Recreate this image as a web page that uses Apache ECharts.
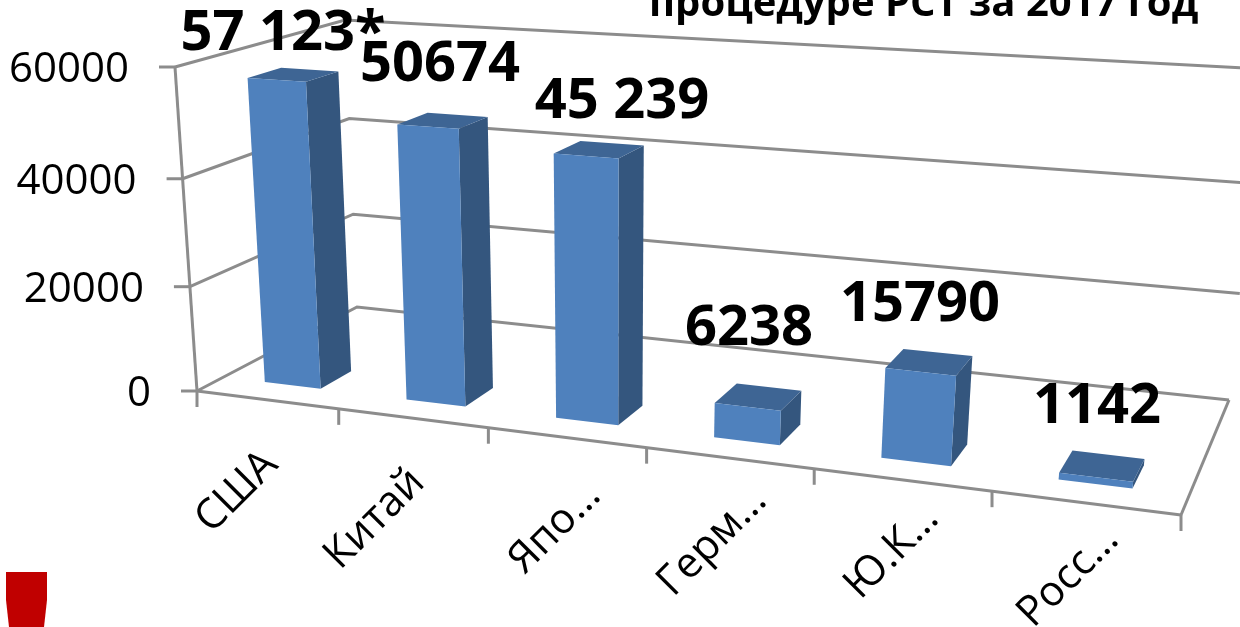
<!DOCTYPE html>
<html>
<head>
<meta charset="utf-8">
<title>PCT</title>
<script src="https://cdn.jsdelivr.net/npm/echarts@6/dist/echarts.min.js"></script>
<style>
  html, body { margin: 0; padding: 0; background: #fff; overflow: hidden; }
  #main { width: 1240px; height: 627px; }
</style>
</head>
<body>
<div id="main"></div>
<script>
var categories = ['США', 'Китай', 'Япо…', 'Герм…', 'Ю.К…', 'Росс…'];
// высота столбца Японии на картинке больше, чем подпись "45 239"
var filings = [57123, 50674, 47600, 6238, 15790, 1142];
var filingLabels = ['57 123*', '50674', '45 239', '6238', '15790', '1142'];
var valueTicks = [0, 20000, 40000, 60000];
var titleText = 'процедуре РСТ за 2017 год';

// где лежат углы "коробки" на картинке
var floorFL = [197, 391], floorFR = [1181, 515], floorBR = [1229, 400], floorBL = [357, 307];
var wallFL = [175, 67], wallBL = [345, 20];

// нижняя грань -> квадрат (x, z), потом добавляем высоту
var dx1 = floorFR[0] - floorBR[0], dx2 = floorBL[0] - floorBR[0];
var dy1 = floorFR[1] - floorBR[1], dy2 = floorBL[1] - floorBR[1];
var sx = floorFL[0] - floorFR[0] + floorBR[0] - floorBL[0];
var sy = floorFL[1] - floorFR[1] + floorBR[1] - floorBL[1];
var det = dx1 * dy2 - dx2 * dy1;
var g = (sx * dy2 - dx2 * sy) / det;
var h = (dx1 * sy - sx * dy1) / det;
var colX = [floorFR[0] - floorFL[0] + g * floorFR[0], floorFR[1] - floorFL[1] + g * floorFR[1], g];
var colZ = [floorBL[0] - floorFL[0] + h * floorBL[0], floorBL[1] - floorFL[1] + h * floorBL[1], h];
var col0 = [floorFL[0], floorFL[1], 1];
var s = (wallBL[1] * colZ[2] - colZ[1]) / (wallFL[1] - wallBL[1]);
var colY = [s * wallFL[0] - col0[0], s * wallFL[1] - col0[1], s - 1];

function project(x, y, z) {
    var w = colX[2] * x + colY[2] * y + colZ[2] * z + col0[2];
    return [
        (colX[0] * x + colY[0] * y + colZ[0] * z + col0[0]) / w,
        (colX[1] * x + colY[1] * y + colZ[1] * z + col0[1]) / w
    ];
}

var grid = { left: 200, top: 60, width: 900, height: 400 };
// координаты оси -> доли ширины/высоты коробки
function unitX(px) { return (px - grid.left) / grid.width; }
function unitY(py) { return (grid.top + grid.height - py) / grid.height; }

var lineStyle = { stroke: '#8c8c8c', lineWidth: 3, fill: null };
var labelFont = '42px "Open Sans"';
var valueFont = 'bold 56px "Open Sans"';
var barDepth = [0.15, 0.34];
var barShare = 0.4;
var labelPos = [[283, 34], [440, 65], [622, 102], [749, 329], [920, 305], [1097, 407]];
var catLabelPos = [[271, 458], [418, 476], [594, 489], [760, 494], [932, 512], [1112, 533]];

function line(a, b) {
    return { type: 'polyline', shape: { points: [a, b] }, style: lineStyle };
}

function renderWall(params, api) {
    var v = api.value(0);
    var y = unitY(api.coord([0, v])[1]);
    var front = project(0, y, 0);
    var items = [
        { type: 'polyline', shape: { points: [front, project(0, y, 1), project(1, y, 1)] }, style: lineStyle },
        line([front[0] - 16, front[1]], front),
        {
            type: 'text', x: front[0] - 46, y: front[1] + 3,
            style: { text: String(v), font: labelFont, fill: '#000', textAlign: 'right', textVerticalAlign: 'middle' }
        }
    ];
    if (v === 0) {
        items.push(line(project(0, 0, 0), project(1, 0, 0)));
        items.push(line(project(1, 0, 0), project(1, 0, 1)));
        items.push(line(project(0, 0, 0), project(0, 1, 0)));
        var last = project(1, 0, 0);
        items.push(line(last, [last[0], last[1] + 16]));
    }
    return { type: 'group', children: items };
}

function renderBar(params, api) {
    var i = api.value(0);
    var band = api.size([1, 0])[0];
    var top = api.coord([i, api.value(1)]);
    var cx = unitX(top[0]);
    var y = unitY(top[1]);
    var half = barShare * band / grid.width / 2;
    var x0 = cx - half, x1 = cx + half, z0 = barDepth[0], z1 = barDepth[1];

    var tickAt = project(cx - band / grid.width / 2, 0, 0);
    var fl = project(x0, y, z0), fr = project(x1, y, z0), br = project(x1, y, z1), bl = project(x0, y, z1);
    var baseL = project(x0, 0, z0), baseR = project(x1, 0, z0), baseB = project(x1, 0, z1);

    return {
        type: 'group',
        children: [
            line(tickAt, [tickAt[0], tickAt[1] + 16]),
            { type: 'polygon', shape: { points: [fr, br, baseB, baseR] }, style: { fill: '#34567e' } },
            { type: 'polygon', shape: { points: [fl, bl, br, fr] }, style: { fill: '#3e6594' } },
            { type: 'polygon', shape: { points: [fl, fr, baseR, baseL] }, style: { fill: '#4f81bd' } },
            {
                type: 'text', x: labelPos[i][0], y: labelPos[i][1], z2: 10,
                style: { text: filingLabels[i], font: valueFont, fill: '#000', textAlign: 'center', textVerticalAlign: 'middle' }
            },
            {
                type: 'text', x: catLabelPos[i][0], y: catLabelPos[i][1], rotation: Math.PI / 4,
                style: { text: categories[i], font: labelFont, fill: '#000', textAlign: 'right', textVerticalAlign: 'middle' }
            }
        ]
    };
}

var myChart = echarts.init(document.getElementById('main'), null, { renderer: 'canvas' });
var option = {
    backgroundColor: '#fff',
    animation: false,
    title: {
        text: titleText,
        left: 644,
        top: -20,
        textStyle: { fontFamily: 'Open Sans', fontWeight: 'bold', fontSize: 40, color: '#000' }
    },
    grid: grid,
    xAxis: { type: 'category', data: categories, show: false },
    yAxis: { type: 'value', min: 0, max: 60000, interval: 20000, show: false },
    graphic: [{
        type: 'polygon',
        shape: { points: [[6, 572], [47, 572], [47, 600], [44, 627], [9, 627], [6, 600]] },
        style: { fill: '#c00000' }
    }],
    series: [
        {
            type: 'custom',
            clip: false,
            z: 1,
            renderItem: renderWall,
            encode: { y: 0 },
            data: valueTicks.map(function (v) { return [v]; })
        },
        {
            type: 'custom',
            clip: false,
            z: 2,
            renderItem: renderBar,
            encode: { x: 0, y: 1 },
            data: filings.map(function (v, i) { return [i, v]; })
        }
    ]
};
myChart.setOption(option);
</script>
</body>
</html>
